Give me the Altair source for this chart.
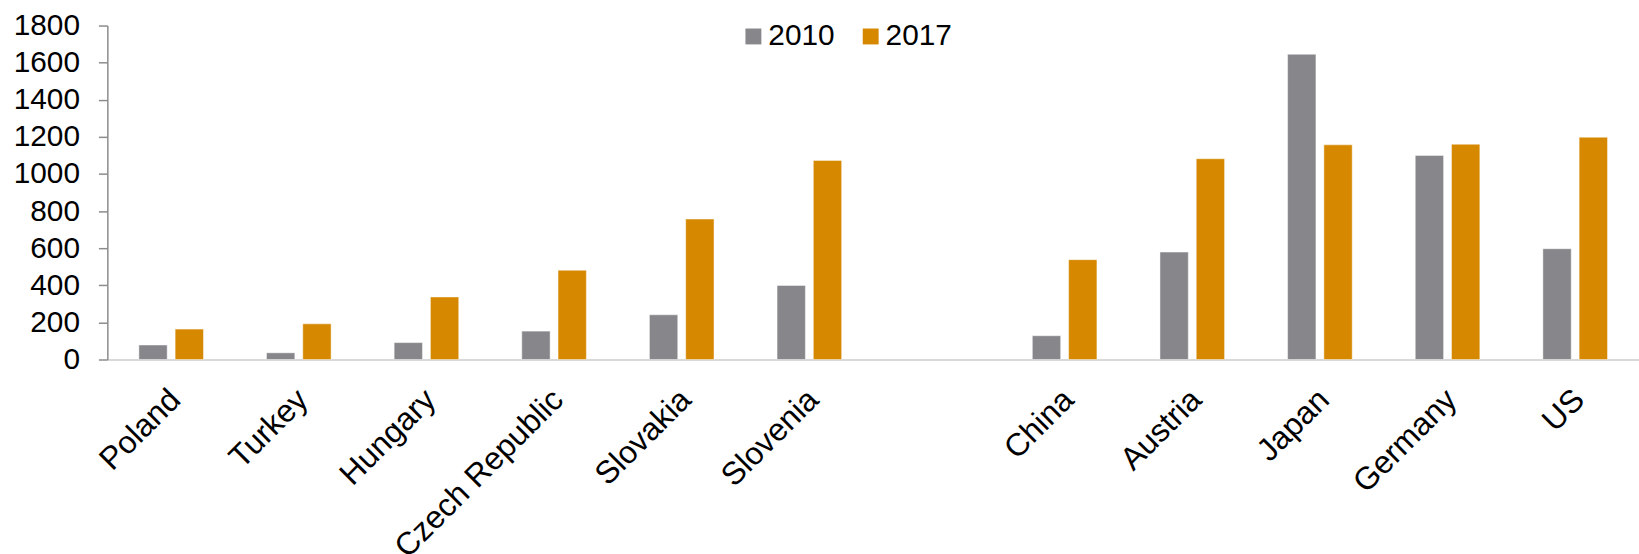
import altair as alt
import pandas as pd

countries = ["Poland", "Turkey", "Hungary", "Czech Republic", "Slovakia", "Slovenia",
             " ", "China", "Austria", "Japan", "Germany", "US"]
data_countries = ["Poland", "Turkey", "Hungary", "Czech Republic", "Slovakia", "Slovenia",
                  "China", "Austria", "Japan", "Germany", "US"]
values_2010 = [78, 36, 91, 153, 241, 399, 128, 579, 1645, 1100, 597]
values_2017 = [164, 192, 337, 481, 757, 1073, 538, 1082, 1157, 1160, 1198]
years = ["2010", "2017"]
colors = ["#87868B", "#D58800"]
y_ticks = [0, 200, 400, 600, 800, 1000, 1200, 1400, 1600, 1800]

rows = []
for c, a, b in zip(data_countries, values_2010, values_2017):
    rows.append({"country": c, "year": "2010", "value": a})
    rows.append({"country": c, "year": "2017", "value": b})
df = pd.DataFrame(rows)

FONT = "Liberation Sans"

chart = alt.Chart(df).mark_bar(stroke="white", strokeWidth=0.75, strokeOpacity=0.6).encode(
    x=alt.X("country:N", sort=None,
            scale=alt.Scale(domain=countries, paddingInner=0.494, paddingOuter=0.247),
            axis=alt.Axis(title=None, labelAngle=-45, labelAlign="right", labelBaseline="middle",
                          labelFontSize=32, labelFont=FONT, labelColor="black",
                          labelPadding=35, labelOffset=4, ticks=False, tickSize=0,
                          domainColor="#D9D9D9", domainWidth=2, grid=False,
                          labelOverlap=False, labelLimit=1000)),
    xOffset=alt.XOffset("year:N", scale=alt.Scale(domain=years, paddingInner=0.219, paddingOuter=0)),
    y=alt.Y("value:Q", scale=alt.Scale(domain=[0, 1800], nice=False),
            axis=alt.Axis(title=None, values=y_ticks, format="d", labelFontSize=30, labelFont=FONT,
                          labelColor="black", labelPadding=19, tickSize=9,
                          tickColor="#8C8C8C", domainColor="#8C8C8C", domainWidth=1.5,
                          tickWidth=1.5, grid=False)),
    color=alt.Color("year:N",
                    scale=alt.Scale(domain=years, range=colors),
                    legend=alt.Legend(orient="none", legendX=635, legendY=-4,
                                      direction="horizontal", title=None,
                                      symbolType="square", symbolSize=256,
                                      symbolStrokeWidth=0,
                                      labelFontSize=30, labelFont=FONT, labelColor="black",
                                      columnPadding=21, labelOffset=0, padding=0)),
).properties(
    width=1541,
    height=336,
    autosize=alt.AutoSizeParams(type="none"),
    padding={"left": 108, "top": 24, "right": 0, "bottom": 194},
).configure_view(stroke=None)

chart.save("out.html", embed_options={"renderer": "svg", "actions": False})
